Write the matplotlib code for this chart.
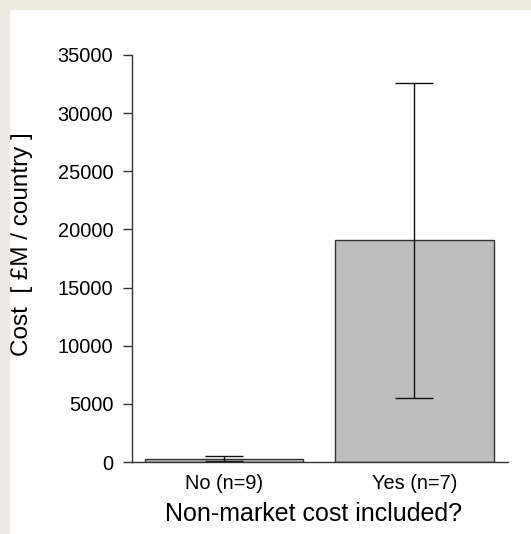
import matplotlib
matplotlib.use("Agg")
import matplotlib.pyplot as plt
from matplotlib.patches import Rectangle

# data
categories = ["No (n=9)", "Yes (n=7)"]
mean_cost = [300, 19050]
err_cost = [220, 13570]
y_ticks = [0, 5000, 10000, 15000, 20000, 25000, 30000, 35000]

plt.rcParams['font.family'] = ['Liberation Sans', 'DejaVu Sans']

fig = plt.figure(figsize=(5.31, 5.34), dpi=100)
fig.patch.set_facecolor("white")

# beige frame at top and left
beige = "#EDEBE0"
fig.patches.append(Rectangle((0, 1 - 9 / 534), 1, 9 / 534, transform=fig.transFigure,
                             color=beige, zorder=0))
fig.patches.append(Rectangle((0, 0), 9 / 531, 1, transform=fig.transFigure,
                             color=beige, zorder=0))

ax = fig.add_axes([132 / 531, 72 / 534, 376 / 531, 407 / 534])
ax.set_facecolor("none")

x = list(range(len(categories)))
ax.bar(x, mean_cost, width=0.832, color="#BEBEBE", edgecolor="#333333", linewidth=1.0,
       yerr=err_cost, capsize=14, error_kw=dict(ecolor="#111111", elinewidth=1.0, capthick=1.0))

ax.set_xlim(-0.483, 1.491)
ax.set_ylim(0, 35000)
ax.set_yticks(y_ticks)
ax.set_xticks(x)
ax.set_xticklabels(categories)

for s in ["top", "right"]:
    ax.spines[s].set_visible(False)
for s in ["left", "bottom"]:
    ax.spines[s].set_color("#333333")
    ax.spines[s].set_linewidth(1.0)

ax.tick_params(axis="y", length=6.5, width=1.0, color="#333333", pad=7, labelsize=14.4)
ax.tick_params(axis="x", length=0, pad=8.6, labelsize=14.4)

ax.set_ylabel("Cost  [ £M / country ]", fontsize=17.5)
ax.set_xlabel("Non-market cost included?", fontsize=18)
ax.yaxis.set_label_coords(-0.263, 0.536)
ax.xaxis.set_label_coords(0.483, -0.098)

plt.savefig("out.png", dpi=100)
